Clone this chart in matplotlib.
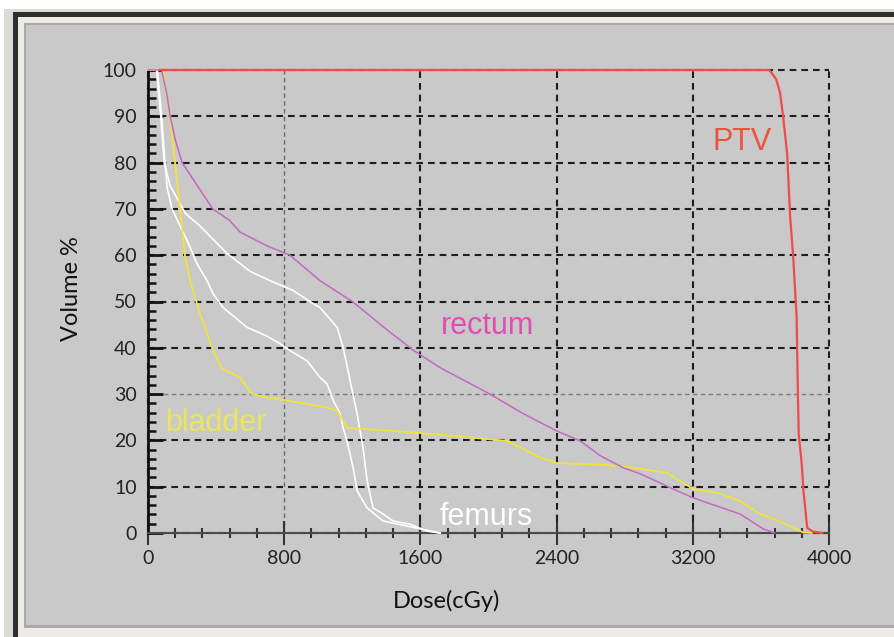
import matplotlib
matplotlib.use("Agg")
import matplotlib.pyplot as plt
from matplotlib.patches import Rectangle
from matplotlib.ticker import MultipleLocator

# ---------------- data ----------------
ptv_dose = [70, 3550, 3650, 3690, 3713, 3731, 3754, 3772, 3790, 3810, 3815, 3822, 3840, 3850, 3872, 3905, 3960]
ptv_vol = [100, 100, 100, 98, 95, 89.8, 82, 68.2, 59.5, 46.5, 35, 21.4, 14.9, 9.1, 1.1, 0.3, 0]

rectum_dose = [0, 80, 110, 130, 160, 200, 290, 380, 480, 540, 700, 834, 1010, 1200, 1400, 1557, 1716,
               2009, 2203, 2403, 2538, 2656, 2791, 2891, 3085, 3202, 3343, 3478, 3613, 3680]
rectum_vol = [100, 100, 95, 90, 85, 80, 75, 70, 67.5, 65, 62, 60, 54.5, 50, 44, 39.5, 35.7,
              30, 25.8, 22, 19.9, 16.7, 14.1, 12.8, 9.5, 7.6, 5.8, 4.1, 0.9, 0]

bladder_dose = [0, 90, 129, 159, 188, 217, 247, 305, 382, 434, 540, 611, 658, 817, 1052, 1111, 1169,
                1263, 1598, 1716, 2109, 2303, 2403, 2697, 2850, 3049, 3202, 3343, 3478, 3596, 3731, 3849, 3900]
bladder_vol = [100, 100, 90, 80, 70, 60, 54.5, 47.4, 39.4, 35.5, 33.6, 30, 29.6, 28.6, 27.1, 26.4, 22.7,
               22.5, 21.6, 21.2, 19.9, 16.3, 15.1, 14.7, 14.1, 13, 9.5, 8.7, 6.9, 4.1, 2.2, 0.1, 0]

femur_a_dose = [0, 55, 80, 100, 112, 141, 229, 290, 347, 382, 441, 582, 700, 775, 834, 934, 1010, 1052,
                1088, 1128, 1146, 1169, 1205, 1228, 1287, 1381, 1598, 1716]
femur_a_vol = [100, 100, 90, 80, 74.7, 70, 63.2, 58, 54.5, 51.7, 48.7, 44.4, 42.5, 40.9, 39.4, 37.2, 33.6, 32.2,
               28.6, 25.8, 22.7, 19.9, 14.1, 9.1, 5.4, 2.6, 0.9, 0]

femur_b_dose = [0, 50, 75, 95, 130, 220, 300, 464, 600, 717, 852, 950, 1010, 1111, 1146, 1187, 1228,
                1263, 1287, 1322, 1381, 1440, 1539, 1640, 1716]
femur_b_vol = [100, 100, 90, 80, 75, 69, 66.5, 60.4, 56.5, 54.5, 52.4, 50, 48.7, 44.4, 40.1, 32.9, 25.8,
               18.4, 11.3, 5.4, 4.1, 2.6, 1.9, 0.4, 0]

x_ticks = [0, 800, 1600, 2400, 3200, 4000]
y_ticks = [0, 10, 20, 30, 40, 50, 60, 70, 80, 90, 100]

# structure labels: (text, dose, volume at baseline, colour)
labels = [
    ("PTV", 3490, 82.7, "#e8553c"),
    ("rectum", 1992, 42.9, "#e04cb4"),
    ("bladder", 400, 22.1, "#ece55a"),
    ("femurs", 1986, 1.7, "#ffffff"),
]

# ---------------- figure ----------------
W, H = 894, 637
fig = plt.figure(figsize=(W / 100, H / 100), dpi=100, facecolor="white")


def prect(x0, y0, x1, y1, color):
    fig.add_artist(Rectangle((x0 / W, 1 - y1 / H), (x1 - x0) / W, (y1 - y0) / H,
                             transform=fig.transFigure, facecolor=color,
                             edgecolor="none", zorder=-10))


prect(4, 9, W, H, "#dddbd5")
prect(13, 12, W, H, "#2e2e2e")
prect(18, 17, W, H, "#ecebe6")
prect(24, 23, W, 628, "#a9a9a9")
prect(26, 25, W, 625, "#c9c9c9")

ax = fig.add_axes([148 / W, 1 - 533 / H, (829 - 148) / W, (533 - 70) / H])
ax.set_facecolor("#c9c9c9")
ax.set_xlim(0, 4000)
ax.set_ylim(0, 100)

for s in ["top", "right"]:
    ax.spines[s].set_visible(False)
ax.spines["left"].set_color("#111111")
ax.spines["left"].set_linewidth(2.0)
ax.spines["bottom"].set_color("#4a4a4a")
ax.spines["bottom"].set_linewidth(1.5)

ax.set_xticks(x_ticks)
ax.set_yticks(y_ticks)
ax.xaxis.set_minor_locator(MultipleLocator(160))
ax.yaxis.set_minor_locator(MultipleLocator(2))

ax.tick_params(axis="y", which="major", direction="in", length=11, width=2.0,
               color="#111111", pad=8, labelsize=14, labelcolor="#222222")
ax.tick_params(axis="y", which="minor", direction="in", length=6, width=1.8, color="#111111")
ax.tick_params(axis="x", which="major", direction="inout", length=17, width=1.5,
               color="#333333", pad=4, labelsize=14, labelcolor="#222222")
ax.tick_params(axis="x", which="minor", direction="inout", length=7, width=1.5, color="#333333")
for lab in ax.get_xticklabels() + ax.get_yticklabels():
    lab.set_fontfamily("Lato")

ax.grid(True, which="major", color="#1e1e1e", linewidth=1.5, linestyle=(0, (3.2, 2.4)))
ax.set_axisbelow(True)
for gl in ax.get_xgridlines() + ax.get_ygridlines():
    gl.set_clip_on(False)
# lighter grid lines seen in the reference
ax.get_xgridlines()[1].set_color("#6a6a6a")
ax.get_xgridlines()[1].set_linewidth(1.0)
ax.get_ygridlines()[3].set_color("#7a7a7a")
ax.get_ygridlines()[3].set_linewidth(1.0)

ax.plot(femur_a_dose, femur_a_vol, color="white", lw=1.2, clip_on=False, zorder=3)
ax.plot(femur_b_dose, femur_b_vol, color="white", lw=1.2, clip_on=False, zorder=3)
ax.plot(bladder_dose, bladder_vol, color="#f0e43a", lw=1.3, clip_on=False, zorder=4)
ax.plot(rectum_dose, rectum_vol, color="#c468c4", lw=1.1, clip_on=False, zorder=5)
ax.plot(ptv_dose, ptv_vol, color="#f04a4a", lw=1.6, clip_on=False, zorder=6)

for txt, xd, yv, col in labels:
    ax.text(xd, yv, txt, color=col, fontsize=22, family="Liberation Sans",
            ha="center", va="baseline", zorder=7)

fig.text(447 / W, 1 - 601 / H, "Dose(cGy)", fontsize=17, family="Lato",
         color="#111111", ha="center", va="center")
fig.text(72 / W, 1 - 289 / H, "Volume %", fontsize=17, family="Lato",
         color="#111111", ha="center", va="center", rotation=90)

fig.savefig("out.png", dpi=100, facecolor=fig.get_facecolor())
